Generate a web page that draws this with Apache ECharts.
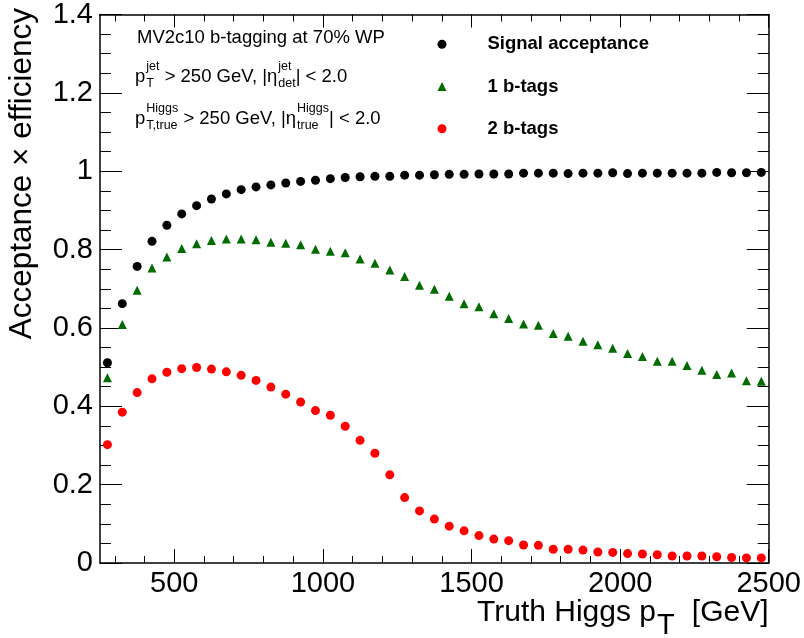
<!DOCTYPE html>
<html>
<head>
<meta charset="utf-8">
<script src="https://cdn.jsdelivr.net/npm/echarts@6/dist/echarts.min.js"></script>
<style>
  html, body { margin: 0; padding: 0; background: #fff; }
  #chart { width: 804px; height: 638px; }
</style>
</head>
<body>
<div id="chart"></div>
<script>
// bin centres of truth Higgs pT [GeV], 50 GeV bins from 250 to 2500
const binCenters = [
  275, 325, 375, 425, 475, 525, 575, 625, 675, 725,
  775, 825, 875, 925, 975, 1025, 1075, 1125, 1175, 1225,
  1275, 1325, 1375, 1425, 1475, 1525, 1575, 1625, 1675, 1725,
  1775, 1825, 1875, 1925, 1975, 2025, 2075, 2125, 2175, 2225,
  2275, 2325, 2375, 2425, 2475
];
const signalAcceptance = [
  0.511, 0.662, 0.757, 0.821, 0.862, 0.891, 0.912, 0.929, 0.942, 0.953,
  0.960, 0.965, 0.970, 0.974, 0.977, 0.981, 0.984, 0.986, 0.987, 0.987,
  0.990, 0.990, 0.991, 0.992, 0.992, 0.993, 0.993, 0.993, 0.995, 0.995,
  0.995, 0.994, 0.995, 0.995, 0.996, 0.994, 0.995, 0.995, 0.995, 0.995,
  0.995, 0.997, 0.996, 0.996, 0.997
];
const oneBTag = [
  0.473, 0.609, 0.696, 0.753, 0.781, 0.803, 0.815, 0.823, 0.827, 0.827,
  0.825, 0.819, 0.816, 0.812, 0.801, 0.796, 0.792, 0.776, 0.765, 0.748,
  0.731, 0.709, 0.699, 0.681, 0.662, 0.654, 0.636, 0.624, 0.610, 0.607,
  0.586, 0.579, 0.566, 0.557, 0.548, 0.535, 0.527, 0.515, 0.515, 0.504,
  0.492, 0.481, 0.485, 0.465, 0.464
];
const twoBTags = [
  0.302, 0.385, 0.435, 0.470, 0.487, 0.496, 0.499, 0.495, 0.488, 0.479,
  0.466, 0.449, 0.431, 0.411, 0.389, 0.377, 0.349, 0.313, 0.280, 0.225,
  0.167, 0.133, 0.112, 0.094, 0.082, 0.070, 0.061, 0.057, 0.046, 0.045,
  0.035, 0.035, 0.033, 0.028, 0.027, 0.024, 0.023, 0.021, 0.018, 0.018,
  0.018, 0.016, 0.014, 0.013, 0.013
];
const xMajorTicks = [500, 1000, 1500, 2000, 2500];
const xMinorTicks = [
  300, 400, 600, 700, 800, 900, 1100, 1200, 1300, 1400,
  1600, 1700, 1800, 1900, 2100, 2200, 2300, 2400
];

const FONT = '"Liberation Sans", Arial, Helvetica, sans-serif';
const measureCtx = document.createElement('canvas').getContext('2d');

function textWidth(text, size, weight) {
  measureCtx.font = `${weight || 'normal'} ${size}px ${FONT}`;
  return measureCtx.measureText(text).width;
}

// text placed by its baseline (canvas 'middle' sits ~0.3465 em above it)
function txt(text, x, baseline, size, extra) {
  const o = Object.assign({ weight: 'normal', align: 'left' }, extra || {});
  return {
    type: 'text',
    x: x,
    y: baseline - 0.3465 * size,
    z: 10,
    style: {
      text: text,
      font: `${o.weight} ${size}px ${FONT}`,
      fill: '#000',
      align: o.align,
      verticalAlign: 'middle'
    }
  };
}

// a line of text with stacked super/subscripts, laid out left to right
function latexLine(x0, baseline, parts, size, scriptSize) {
  const out = [];
  let x = x0;
  parts.forEach((p) => {
    if (typeof p === 'string') {
      out.push(txt(p, x, baseline, size));
      x += textWidth(p, size);
    } else {
      x += 1;
      out.push(txt(p.sup, x, baseline - 12, scriptSize));
      out.push(txt(p.sub, x, baseline + 4.5, scriptSize));
      x += Math.max(textWidth(p.sup, scriptSize), textWidth(p.sub, scriptSize));
    }
  });
  return out;
}

function xAxisDef(position, ticks, len, showLine, showLabel) {
  return {
    type: 'value',
    position: position,
    min: 250,
    max: 2500,
    axisLine: { show: showLine, onZero: false, lineStyle: { color: '#000', width: 1.5 } },
    axisTick: { show: true, inside: true, length: len, customValues: ticks,
      lineStyle: { color: '#000', width: 1 } },
    axisLabel: { show: showLabel, customValues: ticks, color: '#000',
      fontFamily: FONT, fontSize: 29, margin: 6,
      formatter: (v) => String(v) },
    splitLine: { show: false }
  };
}

function yAxisDef(position, showLabel) {
  return {
    type: 'value',
    position: position,
    min: 0,
    max: 1.4,
    interval: 0.2,
    axisLine: { show: true, onZero: false, lineStyle: { color: '#000', width: 1.5 } },
    axisTick: { show: true, inside: true, length: 22, lineStyle: { color: '#000', width: 1 } },
    minorTick: { show: true, splitNumber: 4, length: 11, lineStyle: { color: '#000', width: 1 } },
    axisLabel: { show: showLabel, color: '#000', fontFamily: FONT, fontSize: 29, margin: 7 },
    splitLine: { show: false },
    minorSplitLine: { show: false }
  };
}

function renderChart() {
  const dom = document.getElementById('chart');
  const chart = echarts.init(dom, null, { renderer: 'canvas' });
  const pts = (vals) => binCenters.map((x, i) => [x, vals[i]]);

  const annotation = [].concat(
    [txt('MV2c10 b-tagging at 70% WP', 137, 44, 18.5)],
    latexLine(135, 83,
      ['p', { sup: 'jet', sub: 'T' }, ' > 250 GeV, |η', { sup: 'jet', sub: 'det' }, '| < 2.0'],
      18.5, 12.5),
    latexLine(135, 125,
      ['p', { sup: 'Higgs', sub: 'T,true' }, ' > 250 GeV, |η', { sup: 'Higgs', sub: 'true' }, '| < 2.0'],
      18.5, 12.5)
  );

  const option = {
    animation: false,
    backgroundColor: '#fff',
    grid: { left: 100, right: 35, top: 9, bottom: 75, containLabel: false },
    xAxis: [
      xAxisDef('bottom', xMajorTicks, 14, true, true),
      xAxisDef('bottom', xMinorTicks, 7, false, false),
      xAxisDef('top', xMajorTicks, 13, true, false),
      xAxisDef('top', xMinorTicks, 7, false, false)
    ],
    yAxis: [
      yAxisDef('left', true),
      yAxisDef('right', false)
    ],
    legend: {
      orient: 'vertical',
      left: 437.5,
      top: 34.75,
      padding: 0,
      itemGap: 23.25,
      itemWidth: 9,
      itemHeight: 9,
      textStyle: { color: '#000', fontFamily: FONT, fontSize: 18.5, fontWeight: 'bold',
        padding: [0, 0, 0, 36] },
      data: [
        { name: 'Signal acceptance', icon: 'circle' },
        { name: '1 b-tags', icon: 'triangle' },
        { name: '2 b-tags', icon: 'circle' }
      ]
    },
    series: [
      {
        name: 'Signal acceptance',
        type: 'scatter',
        symbol: 'circle',
        symbolSize: 9,
        itemStyle: { color: '#000000', opacity: 1 },
        data: pts(signalAcceptance)
      },
      {
        name: '1 b-tags',
        type: 'scatter',
        symbol: 'triangle',
        symbolSize: 9,
        itemStyle: { color: '#006b00', opacity: 1 },
        data: pts(oneBTag)
      },
      {
        name: '2 b-tags',
        type: 'scatter',
        symbol: 'circle',
        symbolSize: 9,
        itemStyle: { color: '#ff0000', opacity: 1 },
        data: pts(twoBTags)
      }
    ],
    graphic: {
      elements: annotation.concat([
        // axis titles
        txt('Truth Higgs p', 656, 623, 30, { align: 'right' }),
        txt('T', 657, 636, 29),
        txt('[GeV]', 768.5, 623, 30, { align: 'right' }),
        {
          type: 'text',
          x: 33.3 - 0.3465 * 31.5,
          y: 8,
          rotation: Math.PI / 2,
          z: 10,
          style: {
            text: 'Acceptance × efficiency',
            font: `normal 31.5px ${FONT}`,
            fill: '#000',
            align: 'right',
            verticalAlign: 'middle'
          }
        }
      ])
    }
  };
  chart.setOption(option);
  return chart;
}

renderChart();
</script>
</body>
</html>
